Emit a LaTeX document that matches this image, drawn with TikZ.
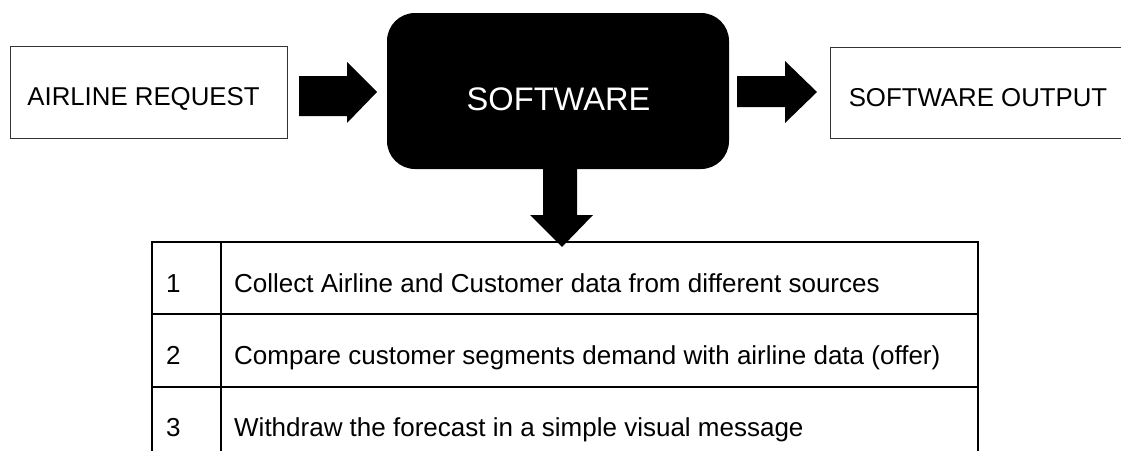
\documentclass[tikz,border=0pt]{standalone}
\usepackage{fontspec}
\setmainfont{Liberation Sans}
\begin{document}
\begin{tikzpicture}[x=1pt,y=-1pt,
  box/.style={draw=black!80,line width=1pt,inner sep=0pt},
  lbl/.style={font=\fontsize{25.8}{30}\selectfont,inner sep=0pt,anchor=base},
  blockarrow/.style={fill=black,draw=none},
  tline/.style={line width=2.4pt,line cap=rect},
  tnum/.style={font=\fontsize{26}{30}\selectfont,inner sep=0pt,anchor=base west},
  ttext/.style={font=\fontsize{26}{30}\selectfont,inner sep=0pt,anchor=base west}]
\useasboundingbox (0,0) rectangle (1121,450);
\begin{scope}
\clip (0,0) rectangle (1121,450);
% boxes
\node[box,minimum width=277pt,minimum height=92pt] (req) at (148.5,92) {};
\node[lbl] (reqt) at (143.5,105) {AIRLINE REQUEST};
\node[fill=black,rounded corners=28pt,minimum width=342pt,minimum height=156pt,inner sep=0pt] (sw) at (558,91) {};
\node[lbl,text=white,font=\fontsize{32.6}{38}\selectfont] (swt) at (558.5,110) {SOFTWARE};
\node[box,minimum width=300pt,minimum height=91pt] (out) at (980,92.5) {};
\node[lbl] (outt) at (978,106) {SOFTWARE OUTPUT};
% block arrows
\coordinate (a1) at (299,76);
\fill[blockarrow] (a1) -- (347,76) -- (347,62) -- (377,92) -- (347,123) -- (347,116) -- (299,116) -- cycle;
\fill[blockarrow] (737,76) -- (785,76) -- (785,61) -- (817,92) -- (785,123) -- (785,107) -- (737,107) -- cycle;
\fill[blockarrow] (543,168) -- (577,168) -- (577,215) -- (593,215) -- (562,247) -- (530,215) -- (543,215) -- cycle;
% table
\coordinate (tl) at (152,242);
\coordinate (tr) at (978,242);
\draw[tline] (152,460) -- (tl) -- (tr) -- (978,460);
\draw[tline] (221,242) -- (221,460);
\draw[tline] (152,314) -- (978,314);
\draw[tline] (152,387) -- (978,387);
\node[tnum] (n1) at (166,292) {1};
\node[ttext] (t1) at (234,292) {Collect Airline and Customer data from different sources};
\node[tnum] (n2) at (166,364) {2};
\node[ttext] (t2) at (234,364) {Compare customer segments demand with airline data (offer)};
\node[tnum] (n3) at (166,436) {3};
\node[ttext] (t3) at (234,436) {Withdraw the forecast in a simple visual message};
\end{scope}
\end{tikzpicture}
\end{document}
